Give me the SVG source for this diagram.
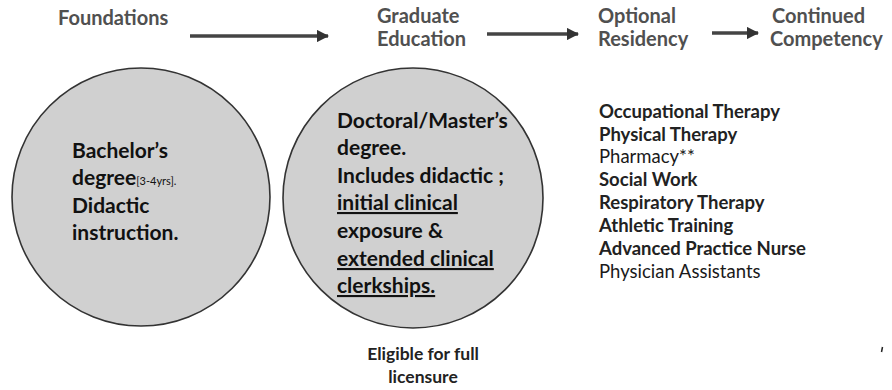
<svg xmlns="http://www.w3.org/2000/svg" width="892" height="390" viewBox="0 0 892 390">
<defs>
<marker id="ah" viewBox="0 0 10 10" refX="9" refY="5" markerWidth="3.5" markerHeight="3.5" orient="auto" markerUnits="strokeWidth">
<path d="M0,0 L10,5 L0,10 z" fill="#333"/>
</marker>
<style>
.hd{font-family:Lato,"Liberation Sans",sans-serif;font-size:20px;font-weight:bold;fill:#505050;}
.ct{font-family:Lato,"Liberation Sans",sans-serif;font-size:21px;font-weight:bold;fill:#111;}
.ls{font-family:Lato,"Liberation Sans",sans-serif;font-size:18.5px;font-weight:bold;fill:#222;}
.lr{font-family:Lato,"Liberation Sans",sans-serif;font-size:18.5px;font-weight:normal;fill:#1a1a1a;}
.el{font-family:Lato,"Liberation Sans",sans-serif;font-size:17.5px;font-weight:bold;fill:#222;}
.circ{fill:#d0d0d0;stroke:#333;stroke-width:1.6;}
.arr{stroke:#444;stroke-width:3.5;fill:none;marker-end:url(#ah);}
</style>
</defs>
<rect width="892" height="390" fill="#fff"/>
<g id="foundations">
<text class="hd" x="58" y="25">Foundations</text>
</g>
<g id="graduate">
<text class="hd" x="377" y="23">Graduate</text>
<text class="hd" x="377" y="46">Education</text>
</g>
<g id="residency">
<text class="hd" x="598" y="23">Optional</text>
<text class="hd" x="598" y="46">Residency</text>
</g>
<g id="competency">
<text class="hd" x="772" y="23">Continued</text>
<text class="hd" x="770" y="46">Competency</text>
</g>
<g id="connectors">
<line class="arr" x1="190" y1="36" x2="328" y2="36"/>
<line class="arr" x1="487" y1="34" x2="578" y2="34"/>
<line class="arr" x1="712" y1="33" x2="758" y2="33"/>
</g>
<g id="bachelor">
<circle class="circ" cx="141" cy="197" r="129"/>
<text class="ct" x="72" y="158">Bachelor’s</text>
<text class="ct" x="72" y="185">degree<tspan font-size="11" font-weight="normal">[3-4yrs].</tspan></text>
<text class="ct" x="72" y="213">Didactic</text>
<text class="ct" x="72" y="240">instruction.</text>
</g>
<g id="doctoral">
<circle class="circ" cx="413" cy="198" r="130"/>
<text class="ct" x="337" y="128">Doctoral/Master’s</text>
<text class="ct" x="337" y="155">degree.</text>
<text class="ct" x="337" y="183">Includes didactic ;</text>
<text class="ct" x="337" y="210" text-decoration="underline">initial clinical</text>
<text class="ct" x="337" y="238">exposure &amp;</text>
<text class="ct" x="337" y="266" text-decoration="underline">extended clinical</text>
<text class="ct" x="337" y="293" text-decoration="underline">clerkships.</text>
</g>
<g id="licensure">
<text class="el" x="423" y="360" text-anchor="middle">Eligible for full</text>
<text class="el" x="423" y="383" text-anchor="middle">licensure</text>
</g>
<g id="professions">
<text class="ls" x="599" y="118">Occupational Therapy</text>
<text class="ls" x="599" y="141">Physical Therapy</text>
<text class="lr" x="599" y="163">Pharmacy**</text>
<text class="ls" x="599" y="186">Social Work</text>
<text class="ls" x="599" y="209">Respiratory Therapy</text>
<text class="ls" x="599" y="232">Athletic Training</text>
<text class="ls" x="599" y="255">Advanced Practice Nurse</text>
<text class="lr" x="599" y="278">Physician Assistants</text>
</g>
<path d="M882.5,347 L881.5,352" stroke="#222" stroke-width="1.5"/>
</svg>
